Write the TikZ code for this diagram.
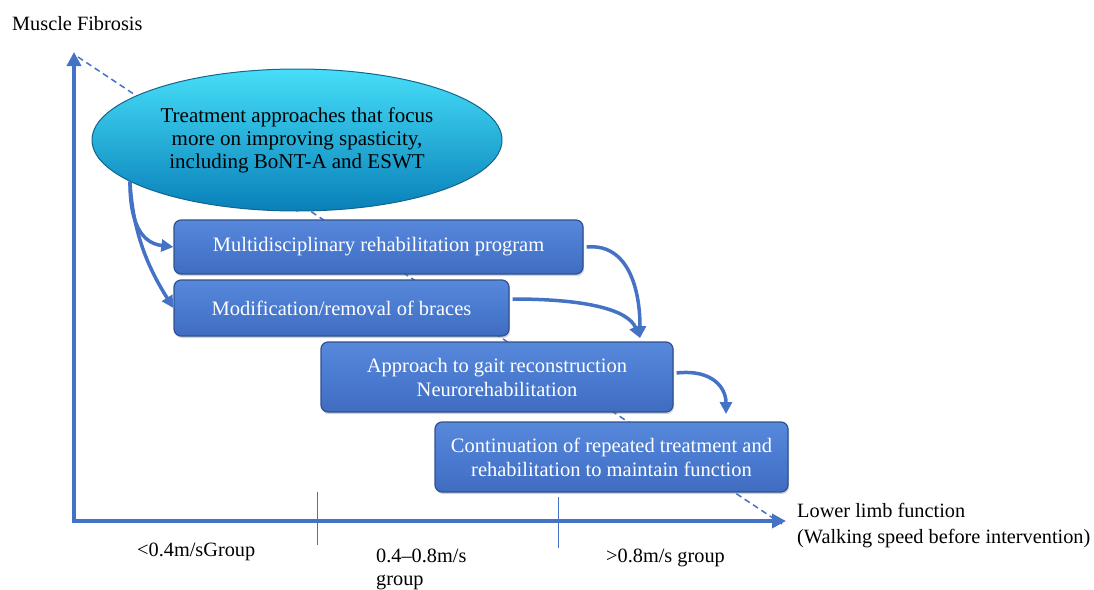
\documentclass[tikz,border=0pt]{standalone}
\usepackage{fontspec}
\setmainfont{Liberation Serif}[Ligatures=TeX]
\newfontfamily\timesface{Liberation Serif}[Ligatures=TeX]
\usetikzlibrary{arrows.meta,shapes.geometric,shadows}
\definecolor{axisblue}{HTML}{4472C4}
\definecolor{boxfill}{HTML}{4A7BD0}
\definecolor{boxedge}{HTML}{2F528F}
\tikzstyle{ovalNode} = [ellipse, minimum width=410pt, minimum height=142pt, inner sep=0pt, text centered, align=center, draw={rgb,255:red,20;green,100;blue,140}, line width=1pt, top color={rgb,255:red,70;green,222;blue,248}, middle color={rgb,255:red,22;green,178;blue,228}, bottom color={rgb,255:red,8;green,128;blue,185}, font=\timesface\fontsize{21}{23}\selectfont]
\tikzstyle{process} = [rectangle, rounded corners=7pt, text centered, align=center, draw=boxedge, line width=1.2pt, top color={rgb,255:red,88;green,136;blue,218}, bottom color={rgb,255:red,64;green,108;blue,192}, middle color=boxfill, text=white, inner sep=0pt, font=\timesface\fontsize{20.5}{24}\selectfont, drop shadow={opacity=0.35, shadow xshift=1pt, shadow yshift=-2pt}]
\tikzstyle{axis} = [axisblue, line width=4pt, -{Triangle[length=14pt,width=14pt]}]
\tikzstyle{arrow} = [axisblue, line width=3.5pt, -{Triangle[length=12pt,width=12pt]}]
\tikzstyle{guide} = [axisblue, line width=1.5pt, dash pattern=on 6pt off 4pt]
\tikzstyle{tick} = [axisblue, line width=0.7pt]
\tikzstyle{lbl} = [inner sep=0pt, anchor=base west, font=\timesface\fontsize{20.3}{22}\selectfont]

\begin{document}
\begin{tikzpicture}[x=1pt, y=-1pt]
	\useasboundingbox (0,0) rectangle (1094,589);
	\coordinate (O) at (74,521);
	\coordinate (Ytop) at (74,52);
	\coordinate (Xend) at (786,521);
	\coordinate (G1) at (78,57);
	\coordinate (G2) at (782,524);
	\coordinate (T1) at (640,338);
	\coordinate (T2) at (726,414);
	% guide line behind everything
	\draw [guide] (G1) -- (G2);
	% axes
	\draw [axis] ([yshift=-2pt]O) -- (Ytop);
	\draw [axis] ([xshift=-2pt]O) -- (Xend);
	\coordinate (K1a) at (317,492);
	\coordinate (K1b) at (317,545);
	\coordinate (K2a) at (558,497);
	\coordinate (K2b) at (558,548);
	\draw [tick] (K1a) -- (K1b);
	\draw [tick] (K2a) -- (K2b);
	% nodes
	\node (Spas) [ovalNode] at (297,140) {Treatment approaches that focus\\more on improving spasticity,\\including BoNT-A and ESWT};
	\node (Rehab) [process, minimum width=409pt, minimum height=54pt] at (378.5,247) {Multidisciplinary rehabilitation program};
	\node (Brace) [process, minimum width=335pt, minimum height=56pt] at (341.5,308) {Modification/removal of braces};
	\node (Gait) [process, minimum width=352pt, minimum height=70pt] at (497,377) {Approach to gait reconstruction\\Neurorehabilitation};
	\node (Cont) [process, minimum width=353pt, minimum height=70pt] at (611.5,457) {Continuation of repeated treatment and\\rehabilitation to maintain function};
	% connectors
	\draw [arrow] (Spas.194) .. controls +(0,42) and +(-32,-4) .. (Rehab.west);
	\draw [arrow] (Spas.194) .. controls +(3,58) and +(-20,-32) .. (Brace.west);
	\draw [arrow] ([xshift=3pt]Rehab.east) .. controls +(42,-4) and +(0,-48) .. (T1);
	\draw [arrow] ([xshift=3pt,yshift=9pt]Brace.east) .. controls +(75,0) and +(-12,-28) .. (T1);
	\draw [arrow] ([xshift=3pt,yshift=4pt]Gait.east) .. controls +(36,-4) and +(0,-26) .. (T2);
	% labels
	\node (YL) [lbl] at (12,30) {Muscle Fibrosis};
	\node (XL1) [lbl] at (797,517) {Lower limb function};
	\node (XL2) [lbl] at (797,543) {(Walking speed before intervention)};
	\node (Grp1) [lbl] at (137,556) {<0.4m/sGroup};
	\node (Grp2a) [lbl] at (376,562) {0.4--0.8m/s};
	\node (Grp2b) [lbl] at (376,585) {group};
	\node (Grp3) [lbl] at (606,562) {>0.8m/s group};
\end{tikzpicture}
\end{document}
